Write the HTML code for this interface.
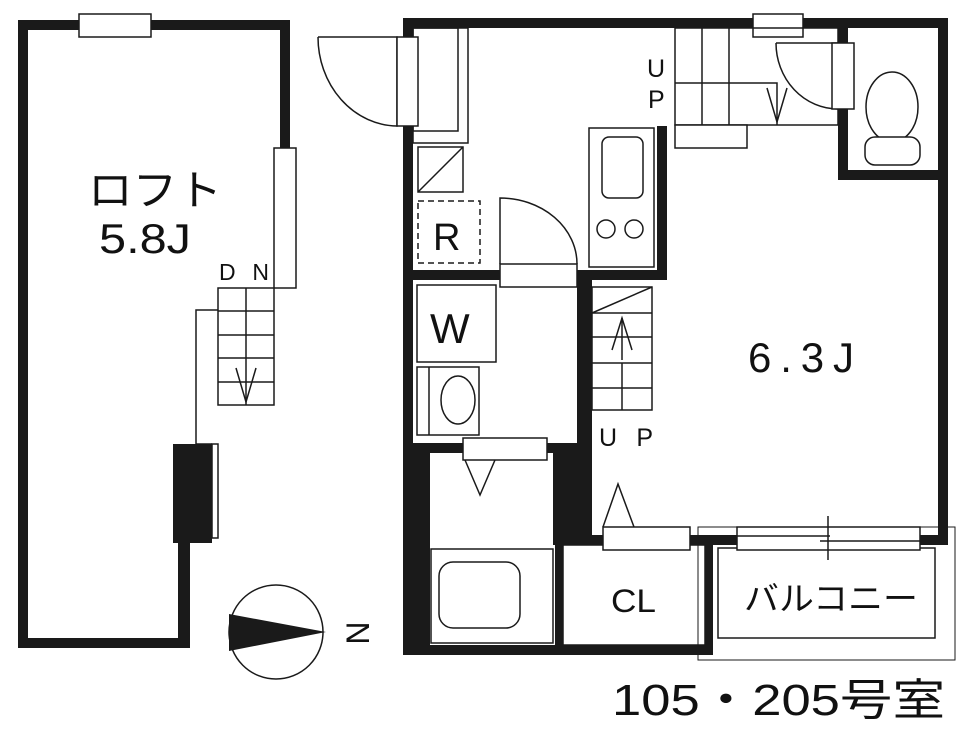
<!DOCTYPE html>
<html><head><meta charset="utf-8"><style>
html,body{margin:0;padding:0;background:#fff;}
svg{display:block;}
text{font-family:"Liberation Sans","Noto Sans CJK JP",sans-serif;fill:#111;}
</style></head><body>
<svg width="969" height="729" viewBox="0 0 969 729" xmlns="http://www.w3.org/2000/svg">
<g fill="#1a1a1a" stroke="none">
<rect x="18" y="20" width="10" height="628"/>
<rect x="18" y="20" width="272" height="10"/>
<rect x="280" y="20" width="10" height="128"/>
<rect x="18" y="638" width="172" height="10"/>
<rect x="178" y="540" width="12" height="108"/>
<rect x="173" y="444" width="39" height="99"/>
<rect x="403" y="18" width="10" height="637"/>
<rect x="403" y="18" width="545" height="10"/>
<rect x="938" y="18" width="10" height="522"/>
<rect x="838" y="28" width="10" height="152"/>
<rect x="838" y="170" width="110" height="10"/>
<rect x="403" y="270" width="97" height="10"/>
<rect x="577" y="270" width="90" height="10"/>
<rect x="657" y="126" width="10" height="154"/>
<rect x="577" y="280" width="15" height="255"/>
<rect x="403" y="443" width="62" height="10"/>
<rect x="545" y="443" width="42" height="10"/>
<rect x="403" y="443" width="27" height="212"/>
<rect x="553" y="445" width="34" height="100"/>
<rect x="403" y="645" width="310" height="10"/>
<rect x="555" y="535" width="393" height="10"/>
<rect x="555" y="535" width="8" height="120"/>
<rect x="705" y="540" width="8" height="115"/>
</g>
<g fill="#fff" stroke="#1a1a1a" stroke-width="1.5">
<rect x="79" y="14" width="72" height="23"/>
<rect x="274" y="148" width="22" height="140"/>
<rect x="218" y="288" width="56" height="117"/>
<line x1="246" y1="288" x2="246" y2="405"/>
<line x1="218" y1="311" x2="274" y2="311"/>
<line x1="218" y1="335" x2="274" y2="335"/>
<line x1="218" y1="358" x2="274" y2="358"/>
<line x1="218" y1="382" x2="274" y2="382"/>
<polyline points="236,368 246,402 256,368" fill="none"/>
<polyline points="218,310 196,310 196,444 212,444" fill="none"/>
<rect x="212" y="444" width="6" height="94"/>
<rect x="753" y="14" width="50" height="23"/>
<rect x="413" y="28" width="55" height="115" fill="none"/>
<rect x="413" y="28" width="45" height="103" fill="none"/>
<path d="M318,37 L397,37 L397,126 A80,89 0 0 1 318,37" fill="none"/>
<rect x="397" y="37" width="21" height="89"/>
<rect x="418" y="147" width="45" height="45" fill="none"/>
<line x1="418" y1="192" x2="463" y2="147"/>
<rect x="418" y="201" width="62" height="62" fill="none" stroke-dasharray="6,4"/>
<path d="M500,264 L500,198 A77,66 0 0 1 577,264" fill="none"/>
<rect x="500" y="264" width="77" height="23"/>
<rect x="589" y="128" width="65" height="139"/>
<rect x="602" y="137" width="41" height="61" rx="7"/>
<circle cx="606" cy="229" r="9"/>
<circle cx="634" cy="229" r="9"/>
<rect x="675" y="28" width="163" height="97" fill="none"/>
<line x1="702" y1="28" x2="702" y2="125"/>
<line x1="729" y1="28" x2="729" y2="125"/>
<polyline points="675,83 777,83 777,125" fill="none"/>
<rect x="675" y="125" width="72" height="23"/>
<polyline points="767,88 777,122 787,88" fill="none"/>
<path d="M776,43 L838,43 L838,109 A62,66 0 0 1 776,43" fill="none"/>
<rect x="832" y="43" width="22" height="66"/>
<ellipse cx="892" cy="107" rx="26" ry="35"/>
<rect x="865" y="137" width="55" height="28" rx="10"/>
<rect x="417" y="285" width="79" height="77"/>
<rect x="417" y="367" width="62" height="68"/>
<line x1="429" y1="367" x2="429" y2="435"/>
<ellipse cx="458" cy="400" rx="17" ry="24"/>
<rect x="463" y="438" width="84" height="22"/>
<polyline points="465,460 480,495 495,460" fill="none"/>
<rect x="431" y="549" width="122" height="94"/>
<rect x="439" y="562" width="81" height="66" rx="14"/>
<rect x="592" y="287" width="60" height="123" fill="none"/>
<line x1="592" y1="313" x2="652" y2="287"/>
<line x1="592" y1="313" x2="652" y2="313"/>
<line x1="592" y1="337" x2="652" y2="337"/>
<line x1="592" y1="363" x2="652" y2="363"/>
<line x1="592" y1="388" x2="652" y2="388"/>
<line x1="622" y1="363" x2="622" y2="410"/>
<line x1="622" y1="318" x2="622" y2="360"/>
<polyline points="612,350 622,318 632,350" fill="none"/>
<rect x="563" y="545" width="142" height="100" fill="none"/>
<polyline points="603,527 618,484 634,527" fill="none"/>
<rect x="603" y="527" width="87" height="23"/>
<rect x="698" y="527" width="257" height="133" fill="none" stroke-width="1"/>
<rect x="718" y="548" width="217" height="90"/>
<rect x="737" y="527" width="183" height="23"/>
<line x1="737" y1="536" x2="830" y2="536"/>
<line x1="820" y1="541" x2="920" y2="541"/>
<line x1="828" y1="516" x2="828" y2="560"/>
</g>
<circle cx="276" cy="632" r="47" fill="#fff" stroke="#1a1a1a" stroke-width="1.5"/>
<polygon points="229,614 326,632 229,651" fill="#1a1a1a"/>
<text x="355" y="633" font-size="32" text-anchor="middle" transform="rotate(90 355 633)" dominant-baseline="middle">N</text>
<text x="88" y="205" font-size="42" textLength="134" lengthAdjust="spacingAndGlyphs">ロフト</text>
<text x="99" y="253" font-size="42" textLength="92" lengthAdjust="spacingAndGlyphs">5.8J</text>
<text x="219" y="280" font-size="23" textLength="50" lengthAdjust="spacing">DN</text>
<text x="433" y="250" font-size="38">R</text>
<text x="430" y="343" font-size="42">W</text>
<text x="647" y="77" font-size="25">U</text>
<text x="648" y="108" font-size="25">P</text>
<text x="599" y="446" font-size="25" textLength="54" lengthAdjust="spacing">UP</text>
<text x="748" y="372" font-size="42" textLength="106" lengthAdjust="spacing">6.3J</text>
<text x="611" y="612" font-size="32" textLength="45" lengthAdjust="spacingAndGlyphs">CL</text>
<text x="744" y="610" font-size="33" textLength="174" lengthAdjust="spacingAndGlyphs">バルコニー</text>
<text x="612" y="715" font-size="44" textLength="333" lengthAdjust="spacingAndGlyphs">105・205号室</text>
</svg>
</body></html>
